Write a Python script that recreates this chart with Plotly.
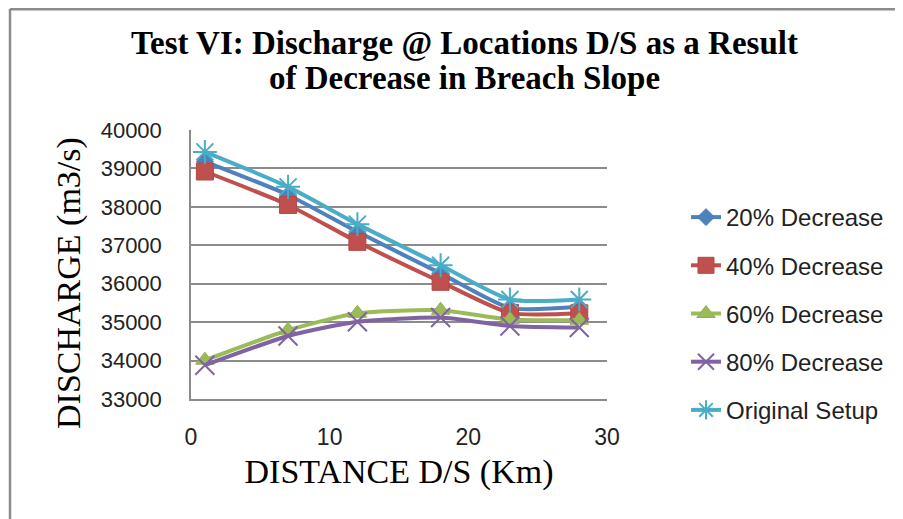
import plotly.graph_objects as go

# distance downstream (km)
distance = [1, 7, 12, 18, 23, 28]

# discharge (m3/s)
dec_20 = [39180, 38310, 37350, 36270, 35370, 35400]
dec_40 = [38920, 38050, 37090, 36050, 35240, 35230]
dec_60 = [34010, 34790, 35230, 35310, 35070, 35050]
dec_80 = [33880, 34640, 35010, 35120, 34900, 34860]
original = [39430, 38520, 37550, 36480, 35590, 35590]

series_names = ["20% Decrease", "40% Decrease", "60% Decrease", "80% Decrease", "Original Setup"]
series_values = [dec_20, dec_40, dec_60, dec_80, original]

y_ticks = [33000, 34000, 35000, 36000, 37000, 38000, 39000, 40000]
x_ticks = [0, 10, 20, 30]

# Excel 2007 default palette
styles = [
    dict(color="#4F81BD", symbol="diamond", size=13, mline=dict(width=1, color="#4A7AB5")),
    dict(color="#C0504D", symbol="square", size=17, mline=dict(width=1, color="#B04845")),
    dict(color="#9BBB59", symbol="triangle-up", size=16, mline=dict(width=1, color="#92B052")),
    dict(color="#8064A2", symbol="x-thin-open", size=19, mline=dict(width=2, color="#8064A2")),
    dict(color="#4BACC6", symbol="asterisk-open", size=20, mline=dict(width=2, color="#4BACC6")),
]

# the page body adds an 8px offset, so work in screen px minus 8
OFF = 8
L, R, T, B = 191 - OFF, 607 - OFF, 130 - OFF, 399 - OFF


def px_x(p):
    return (p - OFF - L) / (R - L)


def px_y(p):
    return (B - (p - OFF)) / (B - T)


fig = go.Figure()
for i, (name, vals) in enumerate(zip(series_names, series_values)):
    st = styles[i]
    fig.add_trace(
        go.Scatter(
            x=distance, y=vals, name=name, mode="lines+markers",
            line=dict(color=st["color"], width=4, shape="spline", smoothing=0.6),
            marker=dict(symbol=st["symbol"], size=st["size"], color=st["color"],
                        line=st["mline"]),
            legendgroup=f"g{i}",
        )
    )

serif = "Liberation Serif, Times New Roman, serif"
sans = "Liberation Sans, Arial, sans-serif"
title_font = dict(family=serif, size=33, color="black")

fig.update_layout(
    width=903, height=519,
    margin=dict(l=L, r=903 - R, t=T, b=519 - B),
    paper_bgcolor="white", plot_bgcolor="white",
    xaxis=dict(
        range=[0, 30], tickvals=x_ticks, showgrid=False,
        showline=True, linecolor="#8C8C8C", linewidth=1.5,
        ticks="", ticklabelstandoff=17,
        tickfont=dict(family=sans, size=23, color="#222"),
        title=dict(text="DISTANCE D/S (Km)", standoff=10,
                   font=dict(family=serif, size=34, color="black")),
        zeroline=False,
    ),
    yaxis=dict(
        range=[33000, 40000], tickvals=y_ticks, tickformat="d", showgrid=True,
        gridcolor="#8C8C8C", gridwidth=1.5,
        showline=True, linecolor="#8C8C8C", linewidth=1.5,
        ticks="", ticklabelstandoff=23,
        tickfont=dict(family=sans, size=22, color="#222"),
        zeroline=False,
    ),
    legend=dict(
        x=px_x(726 - 40), xanchor="left", y=px_y(195), yanchor="top",
        font=dict(family=sans, size=24, color="#222"),
        tracegroupgap=14, bgcolor="rgba(0,0,0,0)",
    ),
    annotations=[
        dict(text="<b>Test VI: Discharge @ Locations D/S as a Result</b>",
             xref="paper", yref="paper", x=px_x(464), y=px_y(43),
             xanchor="center", yanchor="middle", showarrow=False, font=title_font),
        dict(text="<b>of Decrease in Breach Slope</b>",
             xref="paper", yref="paper", x=px_x(464), y=px_y(78),
             xanchor="center", yanchor="middle", showarrow=False, font=title_font),
        # y-axis title sits a little below the plot centre in the original
        dict(text="DISCHARGE (m3/s)", textangle=-90,
             xref="paper", yref="paper", x=px_x(69), y=px_y(283),
             xanchor="center", yanchor="middle", showarrow=False,
             font=dict(family=serif, size=34, color="black")),
    ],
    shapes=[
        dict(type="line", xref="paper", yref="paper",
             x0=px_x(10), x1=px_x(10), y0=px_y(540), y1=px_y(9),
             line=dict(color="#8C8C8C", width=2.5)),
        dict(type="line", xref="paper", yref="paper",
             x0=px_x(10), x1=px_x(920), y0=px_y(9.2), y1=px_y(9.2),
             line=dict(color="#8C8C8C", width=2.5)),
    ],
)

fig.write_html("out.html")
